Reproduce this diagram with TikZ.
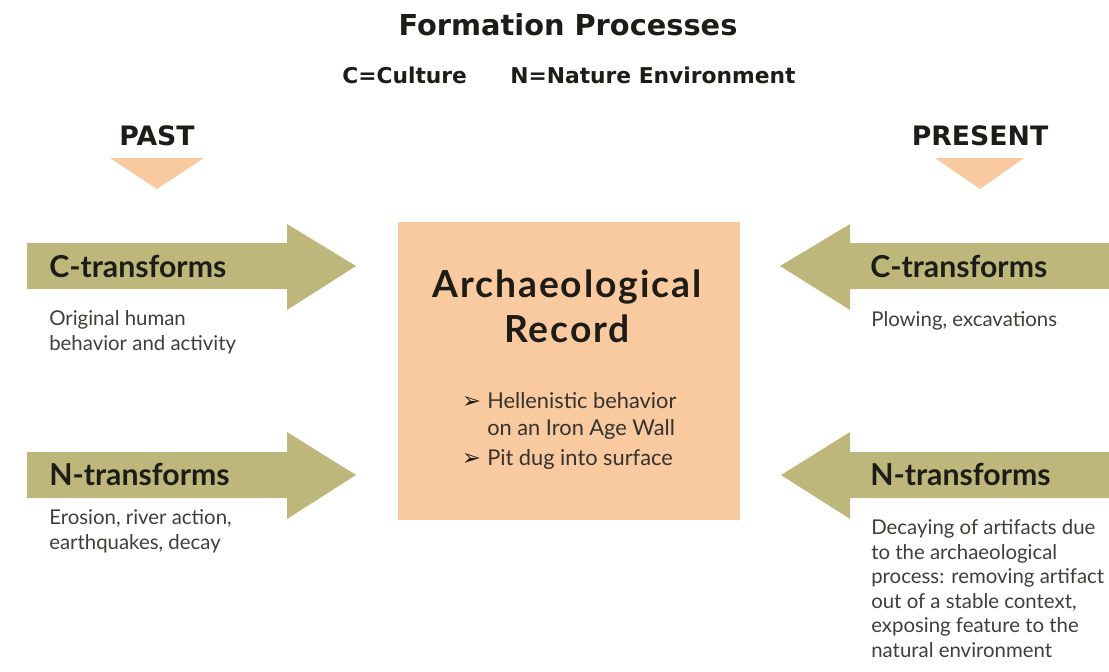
\documentclass[tikz,border=0pt]{standalone}
\usepackage{fontspec}
\setmainfont{Lato}
\newfontfamily\symfont{DejaVu Sans}
\newfontfamily\headfont{DejaVu Sans}
\usetikzlibrary{positioning}
\definecolor{olive}{RGB}{189,183,124}
\definecolor{peach}{RGB}{249,201,160}
\definecolor{ink}{RGB}{30,28,22}

\begin{document}
\begin{tikzpicture}
[x=0.025cm,y=-0.025cm,
 head/.style={font=\bfseries\fontsize{21.5}{24}\selectfont,text=ink,anchor=base west,inner sep=0},
 desc/.style={font=\fontsize{14.5}{17.4}\selectfont,text=ink!85,anchor=base west,align=left,inner sep=0},
 time/.style={font=\headfont\bfseries\fontsize{19}{22}\selectfont,text=ink,anchor=base,inner sep=0},
 item/.style={font=\fontsize{15.5}{19}\selectfont,text=ink!90,anchor=base west,inner sep=0},
 bullet/.style={font=\symfont\fontsize{16}{18}\selectfont,text=ink,anchor=base east,inner sep=0,xshift=-4pt},
 band/.style={fill=olive},
 tri/.style={fill=peach}]
\useasboundingbox (0,0) rectangle (1109,671);

% headings
\node (title) at (568,35) [anchor=base,font=\headfont\bfseries\fontsize{20.5}{24}\selectfont,text=ink] {Formation Processes};
\node (keyc) at (342,83) [anchor=base west,inner sep=0,font=\headfont\bfseries\fontsize{15.5}{18}\selectfont,text=ink] {C=Culture};
\node (keyn) at (510,83) [anchor=base west,inner sep=0,font=\headfont\bfseries\fontsize{15.5}{18}\selectfont,text=ink] {N=Nature Environment};

% past and present
\node (past) at (157,145) [time] {PAST};
\node (present) at (980,145) [time] {PRESENT};
\fill[tri] (110,158) -- (204,158) -- (157,189) -- cycle;
\fill[tri] (935,158) -- (1024,158) -- (980,189) -- cycle;

% record box
\node (rec) at (569,371) [fill=peach,minimum width=8.55cm,minimum height=7.45cm,inner sep=0] {};
\node (rec1) at (567,297) [anchor=base,inner sep=0,font=\bfseries\fontsize{26.5}{32}\selectfont\addfontfeature{LetterSpace=5},text=ink] {Archaeological};
\node (rec2) at (567,342) [anchor=base,inner sep=0,font=\bfseries\fontsize{26.5}{32}\selectfont\addfontfeature{LetterSpace=5},text=ink] {Record};
\node (i1) at (487,408) [item] {Hellenistic behavior};
\node (i1b) at (487,435) [item] {on an Iron Age Wall};
\node (i2) at (487,465) [item] {Pit dug into surface};
\node (m1) at (i1.base west) [bullet] {➢};
\node (m2) at (i2.base west) [bullet] {➢};

% past arrows
\fill[band] (27,243) -- (287,243) -- (287,224) -- (356,266) -- (287,310) -- (287,289) -- (27,289) -- cycle;
\fill[band] (27,452) -- (287,452) -- (287,432) -- (356,475) -- (287,519) -- (287,498) -- (27,498) -- cycle;
\node (cpast) at (49,277) [head] {C-transforms};
\node (npast) at (49,485) [head] {N-transforms};
\node (cpastd) at (49,350) [desc] {Original human\\behavior and activity};
\node (npastd) at (49,549) [desc] {Erosion, river action,\\earthquakes, decay};

% present arrows
\fill[band] (1109,243) -- (850,243) -- (850,224) -- (780,266) -- (850,310) -- (850,289) -- (1109,289) -- cycle;
\fill[band] (1109,452) -- (850,452) -- (850,432) -- (781,475) -- (850,519) -- (850,498) -- (1109,498) -- cycle;
\node (cpres) at (870,277) [head] {C-transforms};
\node (npres) at (870,485) [head] {N-transforms};
\node (cpresd) at (871,326) [desc] {Plowing, excavations};
\node (npresd) at (871,657) [desc] {Decaying of artifacts due\\to the archaeological\\process: removing artifact\\out of a stable context,\\exposing feature to the\\natural environment};

\end{tikzpicture}
\end{document}
